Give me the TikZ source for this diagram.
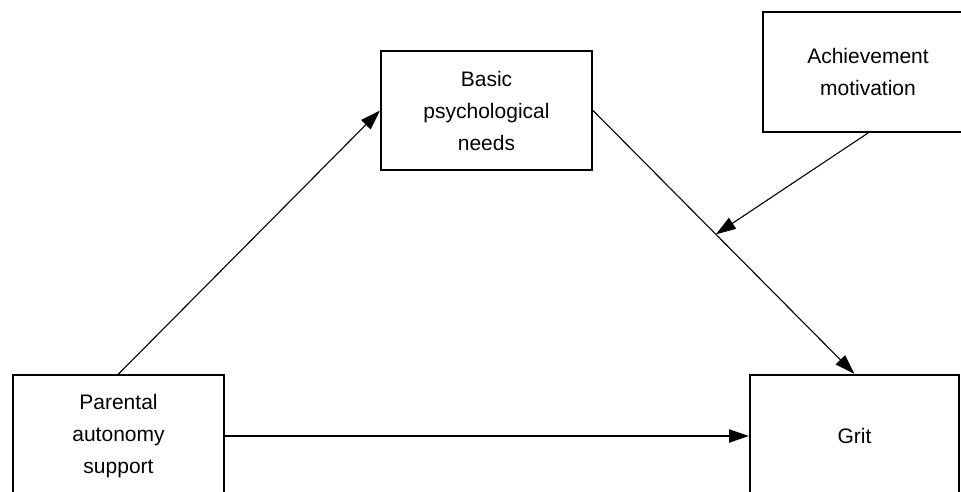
\documentclass[tikz,border=0pt]{standalone}
\usepackage{fontspec}
\setmainfont{Liberation Sans}
\usetikzlibrary{arrows.meta}
\begin{document}
\begin{tikzpicture}[x=1pt,y=-1pt,
  box/.style={draw=black,line width=2pt,align=center,inner sep=0pt,
    font=\fontsize{21}{32}\selectfont},
  conn/.style={line width=1.1pt,-{Triangle[length=20pt,width=13pt]}},
  thick conn/.style={line width=2pt,-{Triangle[length=20pt,width=13pt]}}]
\useasboundingbox (0,0) rectangle (961,491);
\clip (0,0) rectangle (961,491);
\node[box,minimum width=211pt,minimum height=122pt] (pas) at (118.5,436) {Parental\\autonomy\\support};
\node[box,minimum width=211pt,minimum height=119pt] (bpn) at (486.5,110.5) {Basic\\psychological\\needs};
\node[box,minimum width=210pt,minimum height=120pt] (am) at (868,72) {Achievement\\motivation};
\node[box,minimum width=209pt,minimum height=122pt] (grit) at (854.5,436) {Grit};
\draw[conn] (pas.north) -- (bpn.west);
\draw[conn] (bpn.east) -- coordinate[pos=0.47] (mid) (grit.north);
\draw[thick conn] (pas.east) -- (grit.west);
\draw[conn] (am.south) -- (mid);
\end{tikzpicture}
\end{document}
